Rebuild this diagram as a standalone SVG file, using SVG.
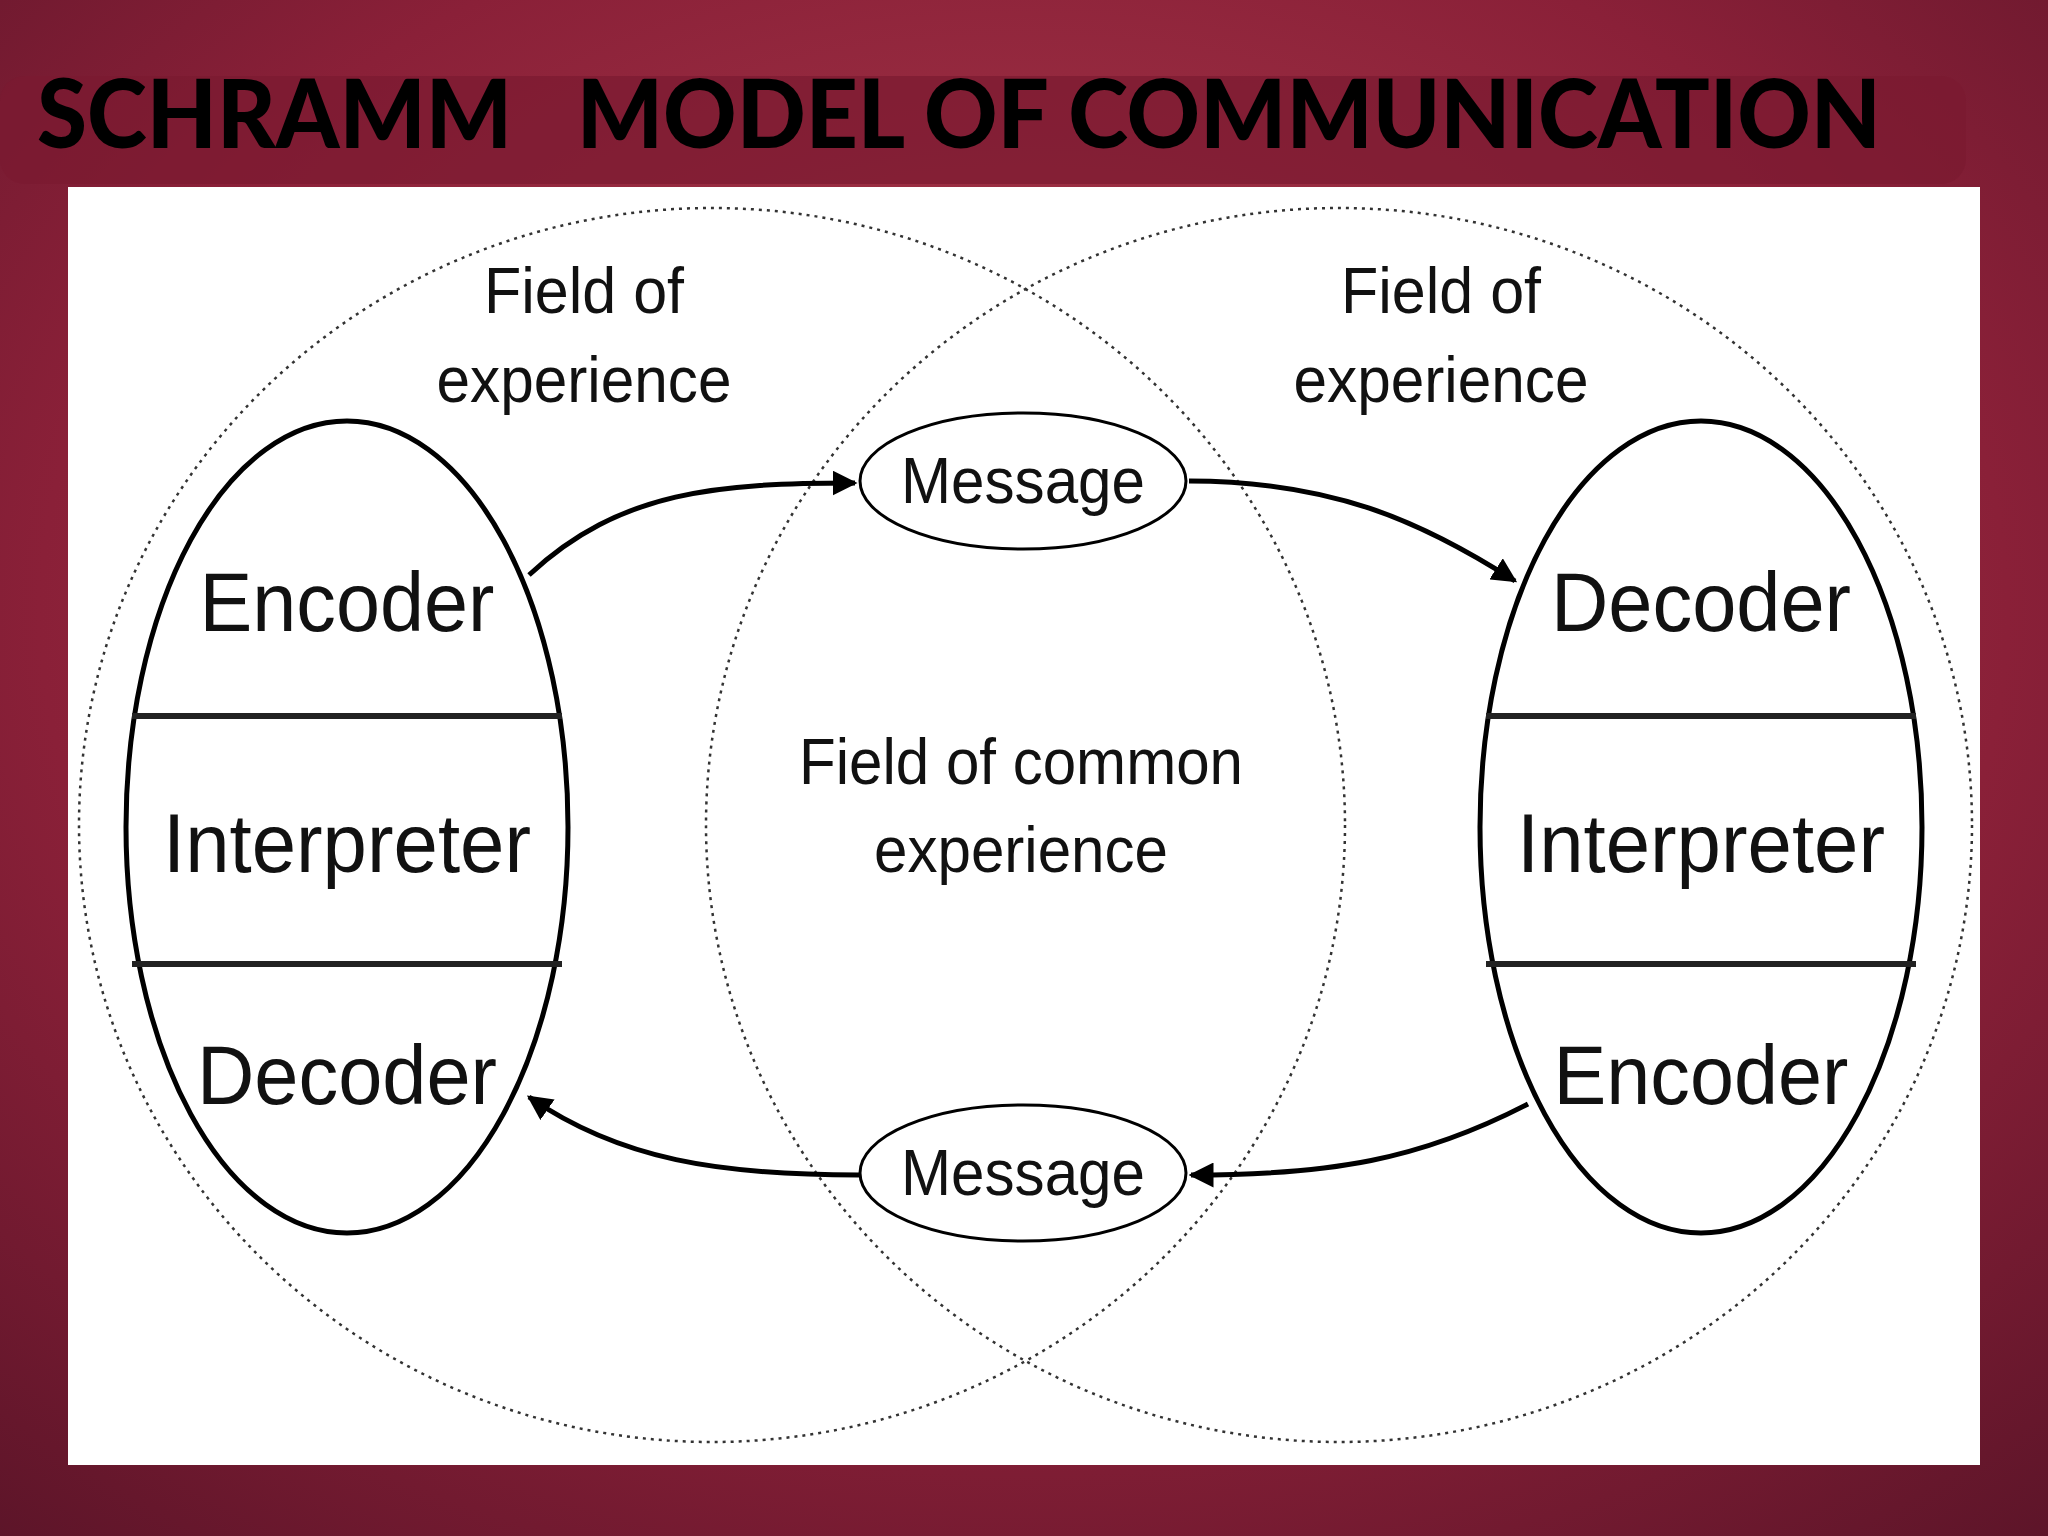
<svg xmlns="http://www.w3.org/2000/svg" width="2048" height="1536" viewBox="0 0 2048 1536">
<defs>
<radialGradient id="bg" cx="0.5" cy="0.4" r="0.8">
<stop offset="0" stop-color="#b0404f"/><stop offset="0.6" stop-color="#8a2038"/><stop offset="1" stop-color="#5a1428"/>
</radialGradient>
<marker id="ah" viewBox="0 0 10 10" refX="9" refY="5" markerWidth="5" markerHeight="5" orient="auto"><path d="M0,0 L10,5 L0,10 z" fill="#000"/></marker>
<style>
.dot{fill:none;stroke:#333;stroke-width:2.5;stroke-dasharray:3 5}
.node{fill:#fff;stroke:#000;stroke-width:5}
.div{stroke:#222;stroke-width:6}
.t{font-family:"Liberation Sans",Arial,sans-serif;fill:#111;text-anchor:middle}
.big{font-size:84px}
.sm{font-size:64px}
.arr{fill:none;stroke:#000;stroke-width:5;marker-end:url(#ah)}
</style>
</defs>
<rect width="2048" height="1536" fill="url(#bg)"/>
<rect x="0" y="76" width="1966" height="108" rx="25" fill="#7a1a30" opacity="0.7"/>
<text x="37" y="148" xml:space="preserve" font-family="Lato,'Liberation Sans',sans-serif" font-weight="900" font-size="96" textLength="1844" lengthAdjust="spacingAndGlyphs" fill="#000">SCHRAMM   MODEL OF COMMUNICATION</text>
<rect x="68" y="187" width="1912" height="1278" fill="#fff"/>
<g id="fields">
<ellipse class="dot" cx="712" cy="825" rx="633" ry="617"/>
<ellipse class="dot" cx="1339" cy="825" rx="633" ry="617"/>
<text class="t sm" x="584" y="313" textLength="200" lengthAdjust="spacingAndGlyphs">Field of</text>
<text class="t sm" x="584" y="402" textLength="295" lengthAdjust="spacingAndGlyphs">experience</text>
<text class="t sm" x="1441" y="313" textLength="200" lengthAdjust="spacingAndGlyphs">Field of</text>
<text class="t sm" x="1441" y="402" textLength="295" lengthAdjust="spacingAndGlyphs">experience</text>
<text class="t sm" x="1021" y="784" textLength="444" lengthAdjust="spacingAndGlyphs">Field of common</text>
<text class="t sm" x="1021" y="872" textLength="294" lengthAdjust="spacingAndGlyphs">experience</text>
</g>
<g id="sender">
<ellipse class="node" cx="347" cy="827" rx="221" ry="406"/>
<line class="div" x1="132" y1="716" x2="562" y2="716"/>
<line class="div" x1="132" y1="964" x2="562" y2="964"/>
<text class="t big" x="347" y="631" textLength="295" lengthAdjust="spacingAndGlyphs">Encoder</text>
<text class="t big" x="347" y="872" textLength="368" lengthAdjust="spacingAndGlyphs">Interpreter</text>
<text class="t big" x="347" y="1104" textLength="300" lengthAdjust="spacingAndGlyphs">Decoder</text>
</g>
<g id="receiver">
<ellipse class="node" cx="1701" cy="827" rx="221" ry="406"/>
<line class="div" x1="1486" y1="716" x2="1916" y2="716"/>
<line class="div" x1="1486" y1="964" x2="1916" y2="964"/>
<text class="t big" x="1701" y="631" textLength="300" lengthAdjust="spacingAndGlyphs">Decoder</text>
<text class="t big" x="1701" y="872" textLength="368" lengthAdjust="spacingAndGlyphs">Interpreter</text>
<text class="t big" x="1701" y="1104" textLength="295" lengthAdjust="spacingAndGlyphs">Encoder</text>
</g>
<g id="msg1"><ellipse class="node" style="stroke-width:3" cx="1023" cy="481" rx="163" ry="68"/><text class="t sm" x="1023" y="503" textLength="244" lengthAdjust="spacingAndGlyphs">Message</text></g>
<g id="msg2"><ellipse class="node" style="stroke-width:3" cx="1023" cy="1173" rx="163" ry="68"/><text class="t sm" x="1023" y="1195" textLength="244" lengthAdjust="spacingAndGlyphs">Message</text></g>
<g id="connectors">
<path class="arr" d="M529,575 C620,490 720,483 855,483"/>
<path class="arr" d="M1189,481 C1330,481 1420,520 1515,581"/>
<path class="arr" d="M1528,1104 C1420,1160 1330,1175 1191,1175"/>
<path class="arr" d="M859,1175 C720,1175 620,1160 529,1097"/>
</g>
</svg>
